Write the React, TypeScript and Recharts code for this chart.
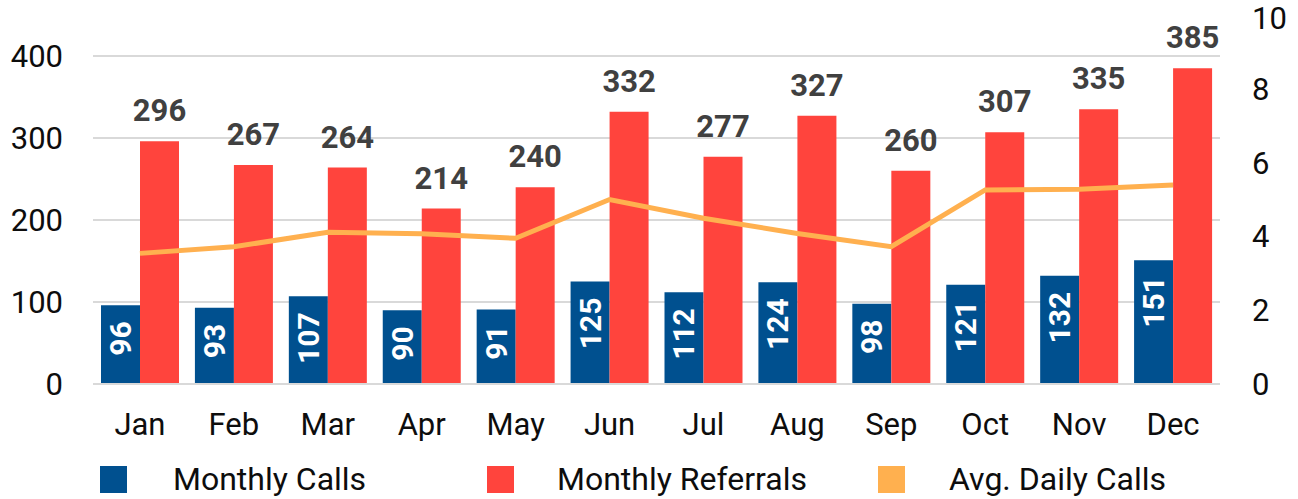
import { ComposedChart, Bar, Line, XAxis, YAxis, CartesianGrid, LabelList } from 'recharts'

const months = ['Jan', 'Feb', 'Mar', 'Apr', 'May', 'Jun', 'Jul', 'Aug', 'Sep', 'Oct', 'Nov', 'Dec']
const monthlyCalls = [96, 93, 107, 90, 91, 125, 112, 124, 98, 121, 132, 151]
const monthlyReferrals = [296, 267, 264, 214, 240, 332, 277, 327, 260, 307, 335, 385]
const avgDailyCalls = [3.54, 3.72, 4.11, 4.07, 3.95, 5.0, 4.49, 4.08, 3.72, 5.26, 5.28, 5.39]
const leftTicks = [0, 100, 200, 300, 400]
const rightTicks = [0, 2, 4, 6, 8, 10]

const BLUE = '#00508F'
const RED = '#FF443D'
const ORANGE = '#FFB04F'
const FONT = 'Roboto, sans-serif'

const data = months.map((m, i) => ({
  month: m,
  calls: monthlyCalls[i],
  referrals: monthlyReferrals[i],
  avg: avgDailyCalls[i],
}))

const legendItems = [
  { name: 'Monthly Calls', color: BLUE, left: 100, textLeft: 173 },
  { name: 'Monthly Referrals', color: RED, left: 487, textLeft: 557 },
  { name: 'Avg. Daily Calls', color: ORANGE, left: 878, textLeft: 949 },
]

// blue bar labels: rotated, sitting near the top inside the bar
const CallsLabel = (props: any) => {
  const { x, y, width, value } = props
  const cx = Number(x) + Number(width) / 2
  const ty = Number(y) + 16
  return (
    <text
      x={cx}
      y={ty}
      transform={`rotate(-90 ${cx} ${ty})`}
      textAnchor="end"
      dominantBaseline="central"
      fill="#fff"
      fontSize={30}
      fontWeight={700}
      fontFamily={FONT}
    >
      {value}
    </text>
  )
}

export default function App() {
  const tick = { fontSize: 31, fill: '#0d0d0d', fontFamily: FONT }
  return (
    <div style={{ position: 'absolute', left: 0, top: 0, width: 1298, height: 499, background: '#fff' }}>
      <ComposedChart
        width={1298}
        height={499}
        data={data}
        margin={{ top: 15, right: 0, left: 0, bottom: 55 }}
        barGap={0}
      >
        <CartesianGrid
          yAxisId="left"
          vertical={false}
          horizontalValues={leftTicks}
          stroke="#d9d9d9"
          strokeWidth={2}
        />
        <XAxis
          dataKey="month"
          tick={tick}
          axisLine={{ stroke: '#d9d9d9', strokeWidth: 2 }}
          tickLine={false}
          tickSize={0}
          tickMargin={29}
          height={60}
          interval={0}
        />
        <YAxis
          yAxisId="left"
          domain={[0, 450]}
          ticks={leftTicks}
          tick={tick}
          axisLine={false}
          tickLine={false}
          tickSize={0}
          tickMargin={30}
          width={93}
          allowDataOverflow
        />
        <YAxis
          yAxisId="right"
          orientation="right"
          domain={[0, 10]}
          ticks={rightTicks}
          tick={tick}
          axisLine={false}
          tickLine={false}
          tickSize={0}
          tickMargin={32}
          width={78}
        />
        <Bar yAxisId="left" dataKey="calls" fill={BLUE} barSize={39} isAnimationActive={false}>
          <LabelList dataKey="calls" content={<CallsLabel />} />
        </Bar>
        <Bar yAxisId="left" dataKey="referrals" fill={RED} barSize={39} isAnimationActive={false}>
          <LabelList
            dataKey="referrals"
            position="top"
            offset={20}
            fill="#404040"
            fontSize={31}
            fontWeight={700}
            fontFamily={FONT}
          />
        </Bar>
        <Line
          yAxisId="right"
          type="linear"
          dataKey="avg"
          stroke={ORANGE}
          strokeWidth={5}
          dot={false}
          isAnimationActive={false}
        />
      </ComposedChart>
      {legendItems.map(item => (
        <div key={item.name}>
          <span
            style={{ position: 'absolute', left: item.left, top: 466, width: 27, height: 27, background: item.color }}
          />
          <span
            style={{
              position: 'absolute',
              left: item.textLeft,
              top: 460,
              lineHeight: '38px',
              fontSize: 32,
              fontFamily: FONT,
              color: '#0d0d0d',
              whiteSpace: 'nowrap',
            }}
          >
            {item.name}
          </span>
        </div>
      ))}
    </div>
  )
}
